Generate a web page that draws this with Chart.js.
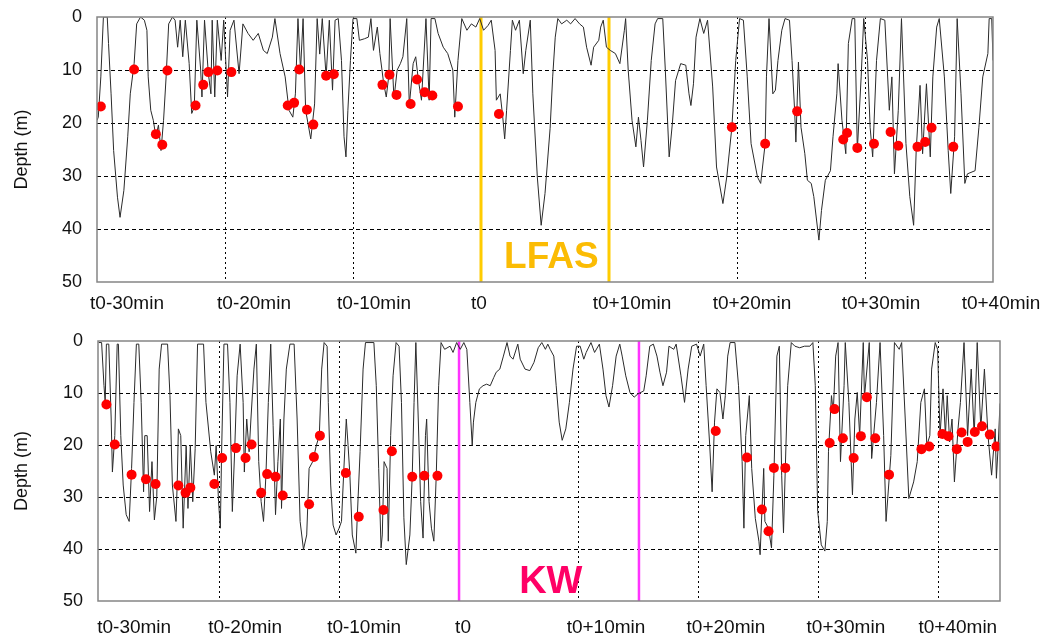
<!DOCTYPE html>
<html>
<head>
<meta charset="utf-8">
<script src="https://cdn.jsdelivr.net/npm/chart.js@4.4.1/dist/chart.umd.min.js"></script>
<style>
  html, body { margin: 0; padding: 0; background: #fff; }
  #wrap { position: relative; width: 1044px; height: 639px; }
  canvas { position: absolute; left: 0; }
</style>
</head>
<body>
<div id="wrap">
  <canvas id="lfas" width="1044" height="320" style="top:0"></canvas>
  <canvas id="kw" width="1044" height="319" style="top:320px"></canvas>
</div>
<script>
/* Dive profiles around two sound exposures (LFAS above, KW below). */
const FONT = "'Liberation Sans', Arial, sans-serif";

const DEPTH_TICKS = [0, 10, 20, 30, 40, 50];
const TIME_TICKS = [-30, -20, -10, 0, 10, 20, 30, 40];
const TIME_LABELS = ["t0-30min", "t0-20min", "t0-10min", "t0", "t0+10min", "t0+20min", "t0+30min", "t0+40min"];

// LFAS: depth trace (minutes from t0, metres)
const LFAS_T = [
  -30.0, -29.9, -29.7, -29.5, -29.2, -29.1, -28.9, -28.7, -28.4, -28.2,
  -27.9, -27.6, -27.4, -27.1, -26.9, -26.6, -26.3, -26.1, -26.0, -25.8,
  -25.6, -25.4, -25.2, -25.0, -24.8, -24.6, -24.4, -24.1, -23.9, -23.7,
  -23.5, -23.3, -23.1, -22.8, -22.6, -22.4, -22.2, -21.9, -21.8, -21.6,
  -21.3, -21.1, -21.0, -20.8, -20.6, -20.3, -20.1, -19.8, -19.6, -19.3,
  -18.9, -18.6, -18.2, -17.8, -17.4, -17.0, -16.7, -16.3, -16.1, -15.7,
  -15.3, -15.0, -14.7, -14.5, -14.3, -14.1, -13.9, -13.7, -13.3, -13.0,
  -12.8, -12.6, -12.4, -12.1, -11.85, -11.6, -11.4, -11.15, -10.9, -10.7,
  -10.55, -10.4, -10.2, -10.0, -9.7, -9.5, -9.1, -8.8, -8.6, -8.4,
  -8.1, -7.9, -7.6, -7.4, -7.2, -7.1, -6.8, -6.55, -6.3, -6.1,
  -5.8, -5.6, -5.3, -5.1, -4.9, -4.65, -4.3, -4.05, -3.9, -3.6,
  -3.35, -2.95, -2.6, -2.2, -2.05, -1.8, -1.5, -1.1, -0.75, -0.4,
  -0.1, 0.2, 0.55, 0.8, 1.1, 1.2, 1.5, 1.7, 1.85, 2.0,
  2.3, 2.45, 2.7, 3.0, 3.3, 3.5, 3.85, 4.05, 4.4, 4.7,
  5.0, 5.4, 5.6, 5.8, 6.0, 6.3, 6.7, 7.0, 7.35, 7.7,
  8.0, 8.25, 8.6, 8.8, 9.2, 9.35, 9.55, 9.8, 10.1, 10.5,
  10.85, 11.2, 11.3, 11.5, 11.8, 12.1, 12.3, 12.5, 12.7, 13.0,
  13.3, 13.6, 13.8, 14.2, 14.4, 14.7, 14.95, 15.2, 15.6, 16.0,
  16.25, 16.4, 16.6, 16.8, 17.1, 17.4, 17.7, 18.1, 18.4, 18.9,
  19.2, 19.6, 19.9, 20.2, 20.5, 20.8, 21.1, 21.6, 21.85, 22.2,
  22.3, 22.5, 22.8, 23.0, 23.2, 23.5, 23.75, 24.1, 24.3, 24.5,
  24.6, 24.8, 25.0, 25.3, 25.5, 25.8, 26.0, 26.4, 26.6, 26.9,
  27.3, 27.5, 27.8, 27.9, 28.2, 28.5, 28.7, 29.0, 29.2, 29.4,
  29.7, 29.9, 30.2, 30.4, 30.6, 30.9, 31.2, 31.55, 31.9, 32.1,
  32.3, 32.6, 32.85, 33.2, 33.5, 33.8, 34.0, 34.3, 34.5, 34.8,
  35.1, 35.3, 35.6, 35.8, 36.2, 36.5, 36.7, 37.0, 37.2, 37.5,
  37.8, 38.0, 38.6, 38.9, 39.2, 39.6, 39.7, 39.9, 40.0
];
const LFAS_D = [
  19.5, 18.9, 11.3, 0, 0, 5, 14.5, 25.2, 34, 37.8,
  32.7, 22.6, 14.5, 8.8, 1.3, 0, 0.6, 2.5, 11.3, 17.6,
  19.5, 22.6, 20.4, 25.2, 19.5, 11.3, 1.3, 0, 0.6, 5.7,
  0.6, 7.5, 0.6, 8.8, 18.2, 17, 0.6, 10, 15.1, 0.6,
  10.7, 14.5, 0.6, 15.1, 0.6, 8.2, 0.6, 15.1, 2.5, 0.6,
  10.7, 1.3, 3.1, 4.4, 3.1, 6.3, 6.9, 3.8, 0.3, 6.9,
  11.3, 17.6, 18.9, 14.5, 0.3, 10, 0.3, 17.6, 23, 16.4,
  0.3, 7, 0.3, 11.3, 0.6, 13.8, 0.6, 0.3, 8.2, 22.6,
  26.4, 17.6, 8.2, 0.3, 0.3, 4.4, 4.1, 3.8, 0.3, 6.3,
  1.9, 6.9, 12.6, 15.1, 11, 0.3, 15.4, 10, 8.8, 7.5,
  0.3, 16.7, 8.8, 7.5, 11.8, 15.7, 0.3, 15.7, 0.3, 0.3,
  3.1, 5.7, 6.9, 10, 18.9, 8.2, 0.3, 2.5, 1.3, 1.9,
  0.3, 2.5, 1.6, 0.6, 6.3, 15.7, 14.5, 18.9, 23, 17.6,
  6.3, 0.6, 2.5, 0.6, 10.7, 6.3, 0.6, 14.5, 30.2, 39.3,
  33.3, 21, 11.3, 3.8, 0.3, 1.3, 0.6, 1.3, 0.3, 1.3,
  1.9, 5.7, 9.1, 5.7, 4.4, 1.9, 0.6, 5.7, 6.3, 6.9,
  8.8, 2.5, 0.3, 10, 19.5, 24.5, 18.9, 23.3, 28.3, 19.5,
  8.2, 1.3, 0.3, 0.3, 10, 26.4, 20.1, 12, 8.8, 9.1,
  14.5, 16.7, 12.6, 3.8, 0.3, 3.1, 0.6, 13.2, 28.3, 35.2,
  30.2, 20.8, 8.2, 0.3, 0.6, 11.3, 23.9, 30.2, 31.4, 23.9,
  11.3, 0.3, 14.5, 13.8, 8.2, 2.5, 0.3, 0.6, 8.2, 17.6,
  23.6, 8.5, 20.8, 25.8, 30.8, 31.4, 33.9, 42.1, 36.5, 30.8,
  29, 22.6, 14.5, 8.8, 19.5, 25.8, 5, 0.3, 0.3, 25.2,
  11.3, 0.3, 8.2, 20.8, 26.4, 8.2, 0.3, 0.6, 17.6, 11.3,
  29.6, 17.6, 0.3, 23.9, 33.9, 39.3, 25.2, 12.9, 25.8, 12.6,
  26.4, 11.3, 1.9, 0.3, 11.3, 25.2, 33.3, 22.6, 0.3, 14.5,
  31.4, 29.6, 29, 20.8, 11.3, 6.9, 0.3, 0.3, 8.2
];
// LFAS: red event dots
const LFAS_HIT_T = [-29.7, -27.1, -25.4, -24.9, -24.5, -22.3, -21.7, -21.3, -20.6, -19.5,
  -15.1, -14.6, -14.2, -13.6, -13.1, -12.1, -11.5, -7.7, -7.15, -6.6,
  -5.5, -5.0, -4.4, -3.8, -1.8, 1.4, 19.6, 22.2, 24.7, 28.3,
  28.6, 29.4, 30.7, 32.0, 32.6, 34.1, 34.7, 35.2, 36.9];
const LFAS_HIT_D = [16.9, 9.9, 22.1, 24.1, 10.1, 16.7, 12.8, 10.4, 10.1, 10.4,
  16.7, 16.2, 9.9, 17.5, 20.3, 11.1, 10.8, 12.8, 10.9, 14.7,
  16.4, 11.8, 14.2, 14.8, 16.9, 18.3, 20.8, 23.9, 17.8, 23.1,
  21.9, 24.7, 23.9, 21.7, 24.3, 24.5, 23.6, 20.9, 24.5];
const LFAS_ON = [0, 10];

// KW: depth trace
const KW_T = [
  -30.05, -29.8, -29.6, -29.5, -29.4, -29.2, -29.0, -28.9, -28.7, -28.5,
  -28.4, -28.2, -28.0, -27.75, -27.5, -27.3, -27.1, -26.9, -26.7, -26.5,
  -26.3, -26.2, -26.0, -25.8, -25.6, -25.4, -25.2, -25.0, -24.8, -24.3,
  -24.1, -23.9, -23.6, -23.5, -23.4, -23.2, -23.0, -22.75, -22.6, -22.4,
  -22.2, -22.0, -21.8, -21.3, -21.1, -20.7, -20.4, -20.25, -20.05, -19.9,
  -19.8, -19.6, -19.3, -19.1, -18.9, -18.7, -18.5, -18.25, -18.0, -17.9,
  -17.7, -17.5, -17.35, -17.1, -16.9, -16.7, -16.5, -16.3, -16.1, -15.9,
  -15.7, -15.5, -15.3, -15.1, -14.9, -14.8, -14.6, -14.4, -14.1, -13.75,
  -13.5, -13.25, -12.97, -12.7, -12.5, -12.2, -11.9, -11.65, -11.45, -11.25,
  -11.0, -10.9, -10.7, -10.5, -10.25, -10.0, -9.8, -9.6, -9.4, -9.25,
  -9.1, -8.9, -8.6, -8.5, -8.25, -8.0, -7.8, -7.1, -6.9, -6.7,
  -6.5, -6.4, -6.25, -6.0, -5.9, -5.7, -5.5, -5.25, -5.0, -4.8,
  -4.6, -4.4, -4.1, -3.9, -3.75, -3.6, -3.4, -3.2, -3.0, -2.8,
  -2.7, -2.5, -2.3, -2.1, -1.9, -1.7, -1.5, -1.2, -0.75, -0.5,
  -0.2, 0.1, 0.4, 0.65, 0.9, 1.1, 1.2, 1.4, 1.7, 2.0,
  2.3, 2.6, 2.9, 3.1, 3.4, 3.7, 4.0, 4.25, 4.5, 4.9,
  5.1, 5.5, 5.9, 6.25, 6.6, 6.9, 7.2, 7.4, 7.6, 7.9,
  8.1, 8.35, 8.6, 8.9, 9.2, 9.5, 9.8, 10.1, 10.4, 10.6,
  11.0, 11.3, 11.7, 12.0, 12.25, 12.5, 12.8, 13.1, 13.4, 13.6,
  13.9, 14.25, 14.6, 14.9, 15.4, 15.6, 15.9, 16.2, 16.5, 16.75,
  17.0, 17.3, 17.5, 17.9, 18.1, 18.5, 18.8, 19.1, 19.4, 19.8,
  20.1, 20.4, 20.6, 20.9, 21.1, 21.3, 21.5, 21.75, 22.0, 22.2,
  22.4, 22.6, 23.0, 23.3, 23.6, 23.75, 23.9, 24.2, 24.4, 24.7,
  25.0, 25.1, 25.4, 25.5, 25.8, 26.05, 26.25, 26.5, 26.7, 26.9,
  27.05, 27.2, 27.4, 27.7, 28.0, 28.4, 28.8, 29.25, 29.5, 29.7,
  29.9, 30.2, 30.5, 30.7, 30.8, 31.05, 31.2, 31.4, 31.6, 31.8,
  32.1, 32.2, 32.5, 32.8, 33.0, 33.2, 33.4, 33.7, 33.8, 34.2,
  34.4, 34.8, 35.1, 35.4, 35.6, 36.0, 36.3, 36.7, 36.9, 37.2,
  37.5, 37.9, 38.2, 38.5, 38.8, 39.0, 39.25, 39.4, 39.7, 39.9,
  40.1, 40.35, 40.55, 40.7, 40.9, 41.1, 41.3, 41.6, 41.8, 42.1,
  42.4, 42.7, 42.95, 43.2, 43.5, 43.8, 44.1, 44.4, 44.7, 44.8,
  44.95, 45.1
];
const KW_D = [
  0.3, 0.3, 8.6, 11.8, 0.6, 0.6, 15, 25.2, 18.2, 0.6,
  0.6, 18.2, 27.7, 33.4, 34.7, 24.5, 11.8, 0.6, 0.6, 11.8,
  29, 18.2, 18.2, 32.8, 23.2, 34.4, 29.9, 5.4, 0.6, 0.6,
  10.5, 27.7, 34.7, 27.7, 16.9, 18.2, 36, 20.1, 32.2, 20.1,
  30.9, 20.7, 0.6, 0.6, 11.8, 21.3, 25.8, 20.1, 30.9, 36,
  22, 0.6, 0.6, 11.8, 32.8, 20.7, 6.7, 0.6, 11.8, 25.2,
  15, 21.3, 15, 5.4, 0.6, 23.2, 30.9, 34.7, 25.8, 11.8,
  0.6, 16.2, 33.4, 23.2, 15, 32.2, 15, 5.4, 0.6, 0.6,
  15, 34.7, 40.1, 37.3, 24.5, 23.2, 20.1, 18.2, 5.4, 0.3,
  1, 11.8, 27.7, 35.4, 37.3, 36, 34.7, 24.5, 15, 20.1,
  25.8, 37.3, 40.8, 34.7, 21.3, 5.4, 0.3, 0.3, 8.6, 24.5,
  39.8, 37.3, 23.2, 24.5, 38.5, 18.2, 6.7, 0.3, 1, 11.8,
  34, 43, 37.3, 25.8, 11.8, 0.3, 15, 30.9, 37.9, 18.2,
  15, 30.9, 36, 38.5, 25.8, 8.6, 0.3, 1.6, 1, 2.2,
  0.3, 1.6, 0.3, 1.6, 11.8, 20.1, 15.6, 11.8, 9.2, 8.6,
  8.3, 8.6, 7, 6, 5.4, 2.9, 0.3, 2.9, 3.5, 0.6,
  3.5, 5.4, 5.7, 4.1, 1.3, 0.3, 1.6, 0.6, 1.6, 2.9,
  8.6, 15.6, 19.1, 16.9, 11.8, 5.4, 1, 1, 3.5, 2.2,
  0.3, 2.2, 0.6, 5.4, 10.5, 12.7, 8.6, 2.9, 0.6, 2.9,
  6.7, 9.9, 10.8, 10.2, 9.6, 6.7, 1, 0.6, 2.9, 6,
  8.6, 6, 1, 1.6, 0.6, 6.7, 11.8, 5.4, 1, 0.6,
  2.9, 0.6, 8.6, 20.1, 29, 15.6, 9.2, 9.9, 15, 10.5,
  2.9, 0.3, 0.3, 8.6, 23.2, 36, 18.2, 10.5, 24.5, 34.1,
  38.5, 41.1, 24.5, 34.7, 36, 39.8, 25.8, 2.9, 1, 25.8,
  36.9, 24.5, 8.6, 0.3, 1, 1.3, 1, 1, 0.3, 8.6,
  32.8, 39.2, 40.4, 34.7, 21.3, 10.5, 13.7, 2.9, 0.3, 23.2,
  8.6, 0.3, 11.8, 29.6, 15, 9.9, 18.2, 0.3, 10.8, 0.3,
  22.6, 11.8, 0.3, 18.2, 34.7, 22, 0.3, 1.6, 0.3, 15,
  30.3, 27.1, 23.2, 11.8, 9.2, 20.1, 18.2, 5.4, 0.3, 1.6,
  18.2, 9.2, 18.2, 10.5, 19.4, 15, 27.1, 16.9, 11.8, 0.3,
  18.2, 5.4, 18.2, 0.3, 16.9, 5.4, 18.2, 25.8, 16.9, 26.4,
  20.1, 12
];
const KW_HIT_T = [-29.4, -28.7, -27.3, -26.1, -25.3, -23.4, -22.8, -22.4, -20.4, -19.75,
  -18.6, -17.8, -17.3, -16.5, -16.0, -15.3, -14.7, -12.5, -12.1, -11.6,
  -9.44, -8.36, -6.3, -5.6, -3.9, -2.9, -1.8, 21.4, 24.0, 25.25,
  25.8, 26.25, 27.2, 30.9, 31.3, 32.0, 32.9, 33.5, 34.0, 34.7,
  35.85, 38.55, 39.2, 40.3, 40.8, 41.5, 41.9, 42.4, 43.0, 43.6,
  44.25, 44.8];
const KW_HIT_D = [12.2, 19.9, 25.7, 26.6, 27.5, 27.8, 29.2, 28.2, 27.5, 22.5,
  20.6, 22.5, 19.9, 29.2, 25.6, 26.1, 29.7, 31.4, 22.3, 18.2,
  25.4, 33.8, 32.5, 21.2, 26.1, 25.9, 25.9, 17.3, 22.4, 32.4,
  36.6, 24.4, 24.4, 19.6, 13.1, 18.7, 22.5, 18.3, 10.8, 18.7,
  25.7, 20.8, 20.3, 17.9, 18.3, 20.8, 17.6, 19.4, 17.5, 16.4,
  18, 20.3];
const KW_ON = [0, 15];

function pts(ts, ds) { return ts.map((t, i) => ({ x: t, y: ds[i] })); }

function depthPanel(id, p) {
  const marks = p.on.map(t => ({
    data: [{ x: t, y: 0 }, { x: t, y: 50 }],
    borderColor: p.onColor, borderWidth: p.onWidth, pointRadius: 0, order: 3,
  }));

  // frame, shifted time labels and the exposure tag
  const overlay = {
    id: "overlay",
    afterDraw(chart) {
      const { ctx, chartArea: a, scales: { x, y } } = chart;
      ctx.save();
      ctx.strokeStyle = "#858585";
      ctx.lineWidth = 1.5;
      ctx.strokeRect(a.left, a.top, a.right - a.left, a.bottom - a.top);
      ctx.fillStyle = "#111";
      ctx.font = "19px " + FONT;
      ctx.textAlign = "center";
      ctx.textBaseline = "alphabetic";
      TIME_TICKS.forEach((t, i) => ctx.fillText(TIME_LABELS[i], x.getPixelForValue(t) + p.shift[i], a.bottom + p.labelDy));
      ctx.fillStyle = p.tagColor;
      ctx.font = "bold " + p.tagSize + "px " + FONT;
      ctx.fillText(p.tag, x.getPixelForValue(p.tagAt[0]), y.getPixelForValue(p.tagAt[1]));
      ctx.restore();
    },
  };

  new Chart(document.getElementById(id), {
    type: "line",
    data: { datasets: [
      { data: pts(p.hitT, p.hitD), showLine: false, pointRadius: 5, pointBackgroundColor: "#ff0000", pointBorderWidth: 0, order: 0 },
      { data: pts(p.t, p.d), borderColor: "#2a2a2a", borderWidth: 1, pointRadius: 0, tension: 0, order: 1 },
      ...marks,
    ] },
    options: {
      responsive: false, animation: false, events: [],
      layout: { padding: { top: p.top, right: p.right, left: 0, bottom: 0 } },
      plugins: { legend: { display: false }, tooltip: { enabled: false } },
      scales: {
        x: {
          type: "linear", min: p.xMin, max: p.xMax,
          afterBuildTicks: s => { s.ticks = TIME_TICKS.map(v => ({ value: v })); },
          afterFit: s => { s.height = p.bottom; s.paddingLeft = 0; s.paddingRight = 0; },
          ticks: { display: false },
          grid: {
            drawTicks: false, lineWidth: 1,
            color: c => (!c.tick || c.tick.value <= -30 || c.tick.value >= p.xMax - 0.5 || p.on.includes(c.tick.value)) ? "rgba(0,0,0,0)" : "#000",
          },
          border: { display: false, dash: [2, 3] },
        },
        y: {
          min: 0, max: 50, reverse: true,
          afterBuildTicks: s => { s.ticks = DEPTH_TICKS.map(v => ({ value: v })); },
          afterFit: s => { s.width = p.left; s.paddingTop = 0; s.paddingBottom = 0; },
          ticks: { color: "#111", font: { size: 18, family: FONT }, padding: 15 },
          grid: {
            drawTicks: false, lineWidth: 1,
            color: c => (!c.tick || c.tick.value === 0 || c.tick.value === 50) ? "rgba(0,0,0,0)" : "#000",
          },
          border: { display: false, dash: [4, 3] },
          title: { display: true, text: "Depth (m)", color: "#111", font: { size: 18, family: FONT }, padding: { top: 11, bottom: 0 } },
        },
      },
    },
    plugins: [overlay],
  });
}

depthPanel("lfas", {
  t: LFAS_T, d: LFAS_D, hitT: LFAS_HIT_T, hitD: LFAS_HIT_D,
  on: LFAS_ON, onColor: "#ffcc00", onWidth: 3,
  xMin: -30, xMax: 40, left: 97, top: 17, right: 51, bottom: 38,
  shift: [30, 29, 21, -2, 23, 15, 16, 8], labelDy: 27,
  tag: "LFAS", tagColor: "#fbbc04", tagSize: 37, tagAt: [5.5, 47.4],
});

depthPanel("kw", {
  t: KW_T, d: KW_D, hitT: KW_HIT_T, hitD: KW_HIT_D,
  on: KW_ON, onColor: "#ff33ff", onWidth: 2.5,
  xMin: -30.1, xMax: 45.1, left: 98, top: 21, right: 44, bottom: 38,
  shift: [35, 26, 25, 4, 27, 27, 27, 19], labelDy: 32,
  tag: "KW", tagColor: "#ff0066", tagSize: 38, tagAt: [7.65, 48.5],
});
</script>
</body>
</html>
